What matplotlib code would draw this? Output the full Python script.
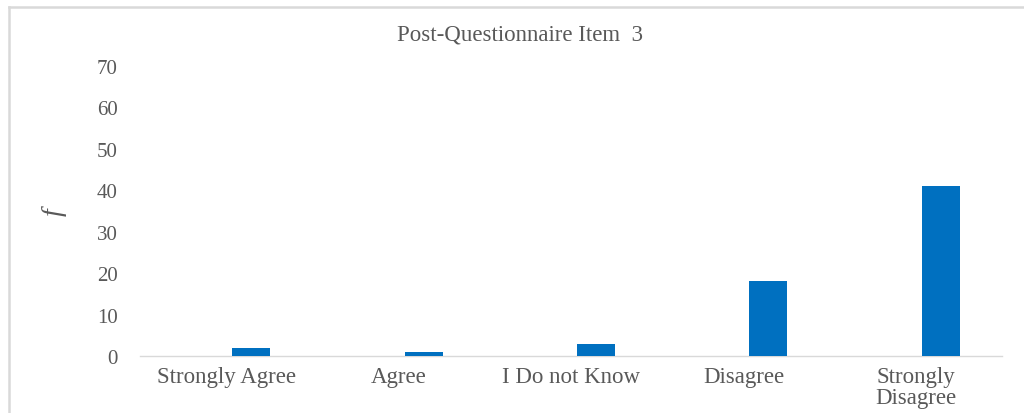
import matplotlib.pyplot as plt
from matplotlib.lines import Line2D

categories = ['Strongly Agree', 'Agree', 'I Do not Know', 'Disagree', 'Strongly\nDisagree']
counts = [2, 1, 3, 18, 41]
yticks = [0, 10, 20, 30, 40, 50, 60, 70]

grey = '#595959'
plt.rcParams['font.family'] = ['Liberation Serif', 'DejaVu Serif']

fig = plt.figure(figsize=(10.24, 4.14), dpi=100)
ax = fig.add_axes([140 / 1024, 57 / 414, 862 / 1024, 290 / 414])

x = range(len(categories))
ax.bar([i + 0.145 for i in x], counts, width=0.22, color='#0070C0', zorder=3)

ax.set_xlim(-0.5, len(categories) - 0.5)
ax.set_ylim(0, 70)
ax.set_yticks(yticks)
ax.set_yticklabels([str(t) for t in yticks], fontsize=15, color=grey)
ax.set_xticks(list(x))
ax.set_xticklabels(categories, fontsize=16.5, color=grey, linespacing=1.02)
ax.tick_params(axis='both', length=0)
ax.tick_params(axis='y', pad=16)
ax.tick_params(axis='x', pad=7)

for s in ['top', 'right', 'left']:
    ax.spines[s].set_visible(False)
ax.spines['bottom'].set_color('#d9d9d9')
ax.spines['bottom'].set_linewidth(1)

ax.set_ylabel('f', fontsize=20, style='italic', color=grey)
ax.yaxis.set_label_coords(-0.085, 0.5)
fig.text(520 / 1024, 1 - 35 / 414, 'Post-Questionnaire Item  3', ha='center', va='center',
         fontsize=16.5, color=grey)

# outer chart frame (only top and left visible)
fig.add_artist(Line2D([9 / 1024, 9 / 1024], [0, 1 - 8 / 414], transform=fig.transFigure,
                      color='#d9d9d9', lw=1.8))
fig.add_artist(Line2D([9 / 1024, 1], [1 - 8 / 414, 1 - 8 / 414], transform=fig.transFigure,
                      color='#d9d9d9', lw=1.8))

fig.savefig('out.png', dpi=100)
